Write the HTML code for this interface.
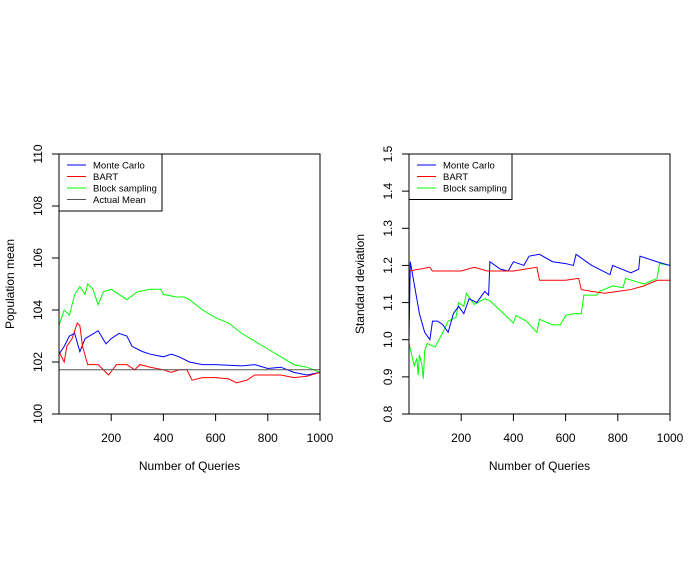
<!DOCTYPE html>
<html><head><meta charset="utf-8"><style>
body{margin:0;background:#fff}
svg{display:block;font-family:"Liberation Sans",sans-serif}
</style></head><body>
<svg id="c" width="700" height="583" viewBox="0 0 700 583"></svg>
<script>
const xs1=[0,20,40,60,80,100,110,130,150,170,200,230,260,300,350,390,400,450,480,500,550,600,650,700,750,800,850,900,950,1000];
const green1=[103.4,104.0,103.8,104.6,104.9,104.6,105.0,104.8,104.2,104.7,104.8,104.6,104.4,104.7,104.8,104.8,104.6,104.5,104.5,104.4,104.0,103.7,103.5,103.1,102.8,102.5,102.2,101.9,101.8,101.6];
const xsB1=[0,20,40,60,80,100,150,180,200,230,260,280,300,320,350,400,430,460,500,550,600,700,750,800,850,900,950,1000];
const blue1=[102.3,102.6,103.0,103.1,102.4,102.9,103.2,102.7,102.9,103.1,103.0,102.6,102.5,102.4,102.3,102.2,102.3,102.2,102.0,101.9,101.9,101.85,101.9,101.75,101.8,101.6,101.5,101.6];
const xsR1=[0,20,30,50,70,80,90,110,150,190,220,260,290,310,350,400,430,460,490,510,550,600,650,680,720,750,800,850,900,950,1000];
const red1=[102.4,102.0,102.6,102.9,103.5,103.4,102.6,101.9,101.9,101.5,101.9,101.9,101.7,101.9,101.8,101.7,101.6,101.7,101.7,101.3,101.4,101.4,101.35,101.2,101.3,101.5,101.5,101.5,101.4,101.45,101.6];
const actualMean=101.7;
const xsB2=[0,5,20,40,60,80,90,110,130,150,170,190,210,230,260,290,305,310,350,380,400,440,460,500,550,600,630,640,700,770,780,850,880,885,950,1000];
const blue2=[1.0,1.21,1.15,1.07,1.02,1.0,1.05,1.05,1.04,1.02,1.07,1.09,1.07,1.11,1.1,1.13,1.12,1.21,1.19,1.185,1.21,1.2,1.225,1.23,1.21,1.205,1.2,1.23,1.2,1.175,1.2,1.18,1.19,1.225,1.21,1.2];
const xsR2=[0,80,90,200,250,300,400,490,500,600,650,660,700,750,800,850,900,950,1000];
const red2=[1.185,1.195,1.185,1.185,1.195,1.185,1.185,1.195,1.16,1.16,1.165,1.135,1.13,1.125,1.13,1.135,1.145,1.16,1.16];
const xsG2=[0,10,20,30,35,40,50,55,60,70,100,130,150,180,190,210,220,250,290,310,400,410,450,490,500,550,580,600,630,660,670,720,730,780,820,830,900,950,960,1000];
const green2=[0.99,0.96,0.93,0.95,0.905,0.96,0.93,0.895,0.97,0.99,0.98,1.02,1.05,1.06,1.1,1.09,1.125,1.095,1.11,1.105,1.045,1.065,1.05,1.02,1.055,1.04,1.04,1.065,1.07,1.07,1.12,1.12,1.13,1.145,1.14,1.165,1.15,1.165,1.205,1.2];
const xTicks=[200,400,600,800,1000];
const yTicks1=[100,102,104,106,108,110];
const yTicks2=[0.8,0.9,1.0,1.1,1.2,1.3,1.4,1.5];

const svg=document.getElementById('c');
const NS='http://www.w3.org/2000/svg';
function mk(t,a,p){const e=document.createElementNS(NS,t);for(const k in a)e.setAttribute(k,a[k]);(p||svg).appendChild(e);return e;}

function panel(L,ymin,ymax,yTicks,ytitle,series,legend,name,fmt){
  const R=L+261,T=154,B=414;
  const xf=v=>L+v/1000*(R-L);
  const yf=v=>B-(v-ymin)/(ymax-ymin)*(B-T);
  const g=mk('g',{});
  
  
  series.forEach(s=>{
    if(s.h!==undefined){
      const l=mk('line',{x1:L,x2:R,y1:yf(s.h),y2:yf(s.h),stroke:s.c,'stroke-width':1},g);
      
      
      return;
    }
    const p=mk('polyline',{points:s.x.map((x,i)=>xf(x)+','+yf(s.y[i])).join(' '),fill:'none',stroke:s.c,'stroke-width':1},g);
    
    
  });
  const box=mk('rect',{x:L,y:T,width:R-L,height:B-T,fill:'none',stroke:'#000','stroke-width':1},g);
  
  
  xTicks.forEach(t=>{
    mk('line',{x1:xf(t),x2:xf(t),y1:B,y2:B+7,stroke:'#000'},g);
    const tx=mk('text',{x:xf(t),y:442,'font-size':12,'text-anchor':'middle'},g);
    tx.textContent=t;
    
    
  });
  yTicks.forEach(t=>{
    mk('line',{x1:L-7,x2:L,y1:yf(t),y2:yf(t),stroke:'#000'},g);
    const tx=mk('text',{x:L-17,y:yf(t),'font-size':12,'text-anchor':'middle',transform:`rotate(-90 ${L-17} ${yf(t)})`},g);
    tx.textContent=fmt(t);
    
    
  });
  const xt=mk('text',{x:(L+R)/2,y:470,'font-size':12,'text-anchor':'middle'},g);
  xt.textContent='Number of Queries';
  
  
  const yx=L-45,yy=(T+B)/2;
  const yt=mk('text',{x:yx,y:yy,'font-size':12,'text-anchor':'middle',transform:`rotate(-90 ${yx} ${yy})`},g);
  yt.textContent=ytitle;
  
  
  const lg=mk('g',{},g);
  
  
  mk('rect',{x:L,y:T,width:103,height:legend.length*11.5+11,fill:'#fff',stroke:'#000'},lg);
  legend.forEach((e,i)=>{
    const y=T+11+i*11.5;
    mk('line',{x1:L+8,x2:L+27,y1:y,y2:y,stroke:e[1],'stroke-width':1},lg);
    const t=mk('text',{x:L+34,y:y+3.5,'font-size':9.5},lg);
    t.textContent=e[0];
    
    
  });
}
panel(59,100,110,yTicks1,'Population mean',[
  {x:xs1,y:green1,c:'#00ff00',n:'block-sampling-line'},
  {x:xsB1,y:blue1,c:'#0000ff',n:'monte-carlo-line'},
  {x:xsR1,y:red1,c:'#ff0000',n:'bart-line'},
  {h:actualMean,c:'#555',n:'actual-mean-line'}],
  [['Monte Carlo','#0000ff'],['BART','#ff0000'],['Block sampling','#00ff00'],['Actual Mean','#555']],'mean-panel',t=>t);
panel(409,0.8,1.5,yTicks2,'Standard deviation',[
  {x:xsG2,y:green2,c:'#00ff00',n:'block-sampling-line'},
  {x:xsB2,y:blue2,c:'#0000ff',n:'monte-carlo-line'},
  {x:xsR2,y:red2,c:'#ff0000',n:'bart-line'}],
  [['Monte Carlo','#0000ff'],['BART','#ff0000'],['Block sampling','#00ff00']],'sd-panel',t=>t.toFixed(1));
</script>
</body></html>
